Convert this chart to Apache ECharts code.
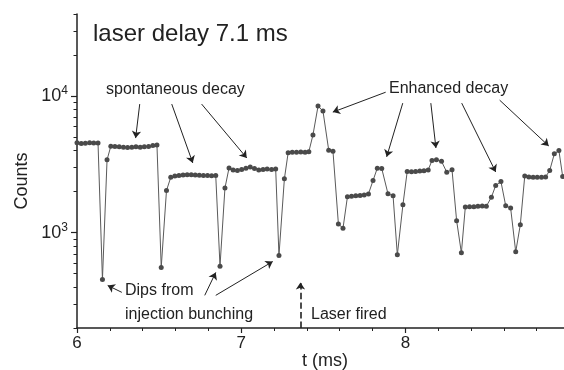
<!DOCTYPE html>
<html>
<head>
<meta charset="utf-8">
<script src="https://cdn.jsdelivr.net/npm/echarts@6/dist/echarts.min.js"></script>
<style>
html,body{margin:0;padding:0;background:#fff;}
#c{width:564px;height:370px;}
</style>
</head>
<body>
<div id="c"></div>
<script>
// time (ms)
const tData = [
 6.000,6.026,6.051,6.077,6.102,6.128,
 6.155,6.183,
 6.206,6.231,6.257,6.283,6.308,6.334,6.359,6.385,6.410,6.436,6.462,6.487,
 6.513,6.545,
 6.571,6.596,6.621,6.646,6.671,6.696,6.720,6.745,6.770,6.795,6.820,6.845,
 6.871,6.901,
 6.926,6.951,6.977,7.003,7.029,7.055,7.081,7.107,7.133,7.158,7.185,7.210,
 7.230,7.263,
 7.286,7.311,7.337,7.363,7.389,7.412,
 7.437,7.468,7.498,7.533,7.559,7.592,7.620,
 7.647,7.672,7.698,7.724,7.749,7.775,
 7.803,7.829,7.856,7.894,7.925,7.951,7.985,
 8.011,8.037,8.062,8.088,8.113,8.139,
 8.162,8.189,8.220,8.252,8.284,8.312,8.341,
 8.365,8.391,8.417,8.442,8.468,8.493,
 8.524,8.550,8.582,8.611,8.641,8.672,8.700,
 8.727,8.752,8.778,8.803,8.829,8.854,
 8.879,8.907,8.935,8.958
];
// counts
const counts = [
 4550,4500,4520,4560,4540,4540,
 454,3415,
 4300,4280,4250,4220,4200,4230,4250,4220,4260,4280,4350,4380,
 556,2036,
 2540,2600,2620,2640,2650,2660,2640,2630,2620,2620,2610,2620,
 568,2120,
 2980,2880,2850,2900,2960,3030,2950,2880,2900,2920,2900,2930,
 679,2477,
 3850,3880,3880,3900,3880,3920,
 5190,8455,7785,4018,3950,1157,1075,
 1830,1850,1860,1870,1890,1920,
 2410,2966,2950,1927,1862,687,1600,
 2800,2790,2810,2830,2840,2880,
 3381,3420,3330,2774,2884,1224,711,
 1540,1550,1550,1560,1570,1560,
 1820,2214,2366,1574,1513,723,1144,
 2600,2560,2550,2540,2540,2560,
 2852,3777,3990,2578
];
const xLabels = [6, 7, 8];
const xMinorTicks = [6.2,6.4,6.6,6.8,7.2,7.4,7.6,7.8,8.2,8.4,8.6,8.8];
const yLabels = [1000, 10000];
const yMinorTicks = [200,300,400,500,600,700,800,900,2000,3000,4000,5000,6000,7000,8000,9000,20000,30000,40000];
// annotation arrows [from, to] in data coordinates (t, counts)
const arrows = [
 [[6.382, 8750], [6.357, 4930]],
 [[6.577, 8750], [6.705, 3243]],
 [[6.759, 8750], [7.034, 3524]],
 [[7.880, 10690], [7.558, 7640]],
 [[7.984, 8890], [7.886, 3590]],
 [[8.155, 8890], [8.186, 4170]],
 [[8.343, 8890], [8.550, 2786]],
 [[8.574, 9350], [8.873, 4316]],
 [[6.273, 365], [6.187, 410]],
 [[6.778, 347], [6.845, 511]],
 [[6.845, 347], [7.192, 614]]
];
const laserArrow = [[7.361, 200], [7.361, 431]];

const FONT = '"Liberation Sans", Arial, sans-serif';
const INK = '#222';
const XMAX = 8.966;

const chart = echarts.init(document.getElementById('c'), null, {renderer: 'canvas'});
const axisLineStyle = {color: INK, width: 1.5};
chart.setOption({
  animation: false,
  backgroundColor: '#fff',
  textStyle: {fontFamily: FONT},
  grid: {left: 77, right: 0, top: 14, bottom: 42, outerBoundsMode: 'none'},
  xAxis: [
    {type: 'value', min: 6, max: XMAX, position: 'bottom',
     axisLine: {lineStyle: axisLineStyle},
     axisTick: {customValues: xLabels, length: 5, lineStyle: {color: INK, width: 1.2}},
     axisLabel: {customValues: xLabels, fontSize: 17, color: INK, margin: 7, fontFamily: FONT},
     splitLine: {show: false}},
    {type: 'value', min: 6, max: XMAX, position: 'bottom',
     axisLine: {show: false},
     axisTick: {customValues: xMinorTicks, length: 3, lineStyle: {color: INK, width: 1}},
     axisLabel: {show: false},
     splitLine: {show: false}}
  ],
  yAxis: [
    {type: 'log', logBase: 10, min: 200, max: 40000, position: 'left',
     axisLine: {lineStyle: axisLineStyle},
     axisTick: {customValues: yLabels, length: 6, lineStyle: {color: INK, width: 1.2}},
     axisLabel: {customValues: yLabels, margin: 9, color: INK,
       formatter: function (v) { return '{b|10}{s|' + Math.round(Math.log10(v)) + '}'; },
       rich: {b: {fontSize: 18, fontFamily: FONT, color: INK, lineHeight: 22},
              s: {fontSize: 12, fontFamily: FONT, color: INK, verticalAlign: 'top', lineHeight: 22, padding: [0, 0, 10, 0]}}},
     splitLine: {show: false}},
    {type: 'log', logBase: 10, min: 200, max: 40000, position: 'left',
     axisLine: {show: false},
     axisTick: {customValues: yMinorTicks, length: 3.5, lineStyle: {color: INK, width: 1}},
     axisLabel: {show: false},
     splitLine: {show: false}}
  ],
  series: [{
    type: 'line', xAxisIndex: 0, yAxisIndex: 0,
    data: tData.map((t, i) => [t, counts[i]]),
    symbol: 'circle', symbolSize: 5,
    itemStyle: {color: '#4a4a4a'},
    lineStyle: {color: '#5a5a5a', width: 1},
    clip: true,
    markLine: {
      silent: true, animation: false,
      symbol: ['none', 'arrow'], symbolSize: 7,
      label: {show: false},
      lineStyle: {color: INK, width: 1, type: 'solid'},
      emphasis: {disabled: true},
      data: arrows.map(a => [{coord: a[0]}, {coord: a[1]}]).concat([[
        {coord: laserArrow[0], lineStyle: {type: 'dashed', width: 1.6, color: INK}},
        {coord: laserArrow[1]}
      ]])
    }
  }],
  graphic: [
    {type: 'text', x: 93, y: 34, style: {text: 'laser delay 7.1 ms', font: '24px ' + FONT, fill: INK, align: 'left', verticalAlign: 'middle'}},
    {type: 'text', x: 106, y: 90, style: {text: 'spontaneous decay', font: '16px ' + FONT, fill: INK, align: 'left', verticalAlign: 'middle'}},
    {type: 'text', x: 389, y: 89, style: {text: 'Enhanced decay', font: '16px ' + FONT, fill: INK, align: 'left', verticalAlign: 'middle'}},
    {type: 'text', x: 125, y: 291, style: {text: 'Dips from', font: '16px ' + FONT, fill: INK, align: 'left', verticalAlign: 'middle'}},
    {type: 'text', x: 125, y: 315, style: {text: 'injection bunching', font: '16px ' + FONT, fill: INK, align: 'left', verticalAlign: 'middle'}},
    {type: 'text', x: 311, y: 315, style: {text: 'Laser fired', font: '16px ' + FONT, fill: INK, align: 'left', verticalAlign: 'middle'}},
    {type: 'text', x: 325, y: 361, style: {text: 't (ms)', font: '18px ' + FONT, fill: INK, align: 'center', verticalAlign: 'middle'}},
    {type: 'text', x: 22, y: 181, rotation: Math.PI / 2, style: {text: 'Counts', font: '18px ' + FONT, fill: INK, align: 'center', verticalAlign: 'middle'}}
  ]
});
</script>
</body>
</html>
